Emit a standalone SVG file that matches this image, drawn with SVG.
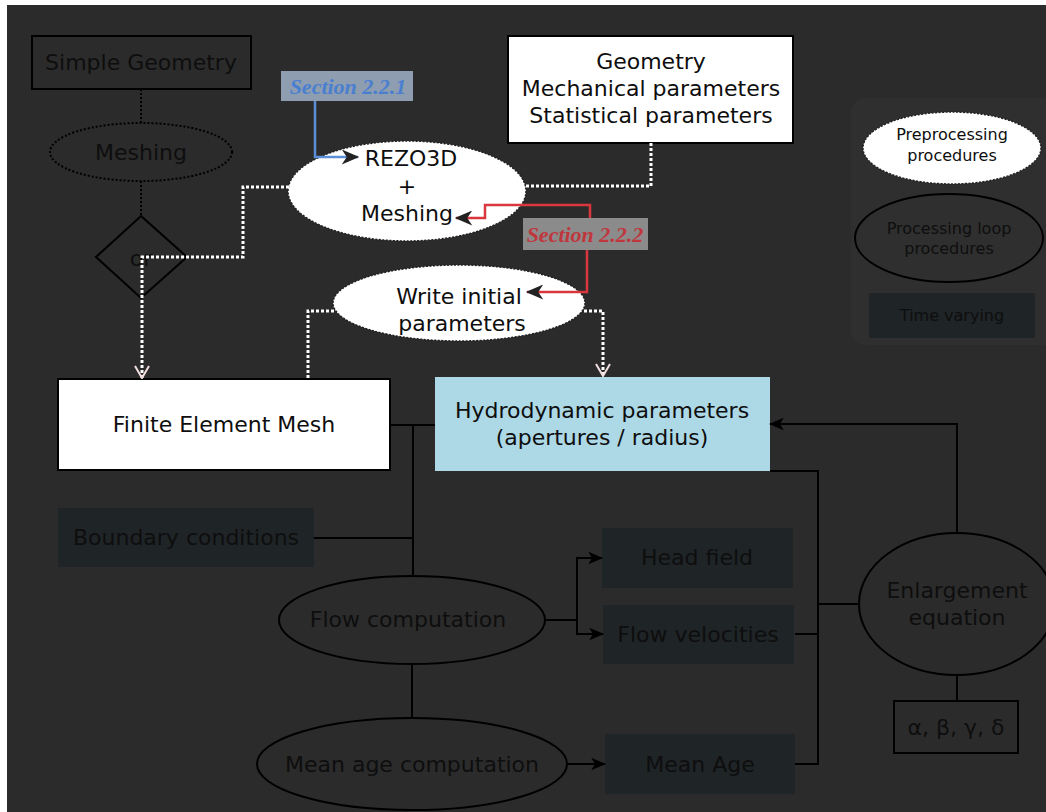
<svg xmlns="http://www.w3.org/2000/svg" width="1046" height="812" viewBox="0 0 1046 812">
<style>
  text { font-family: "DejaVu Sans", "Liberation Sans", sans-serif; font-size: 22px; text-anchor: middle; dominant-baseline: central; fill: #0e0e0e; }
  .dark { fill: #1f2427; }
  .blk { fill: none; stroke: #000; stroke-width: 2; }
  .dotk { fill: none; stroke: #000; stroke-width: 2; stroke-dasharray: 2 2; }
  .dotw { fill: none; stroke: #fff; stroke-width: 3; stroke-dasharray: 3 2; }
  .pre { fill: #fff; stroke: #222; stroke-width: 1.5; stroke-dasharray: 2 1.5; }
  .line { fill: none; stroke: #000; stroke-width: 2; }
  .sec { font-family: "Liberation Serif", serif; font-style: italic; font-weight: bold; font-size: 22px; }
  .small { font-size: 16px; }
</style>
<defs>
  <marker id="ah" viewBox="0 0 12 10" refX="11" refY="5" markerWidth="15" markerHeight="13" markerUnits="userSpaceOnUse" orient="auto">
    <path d="M0,0 L12,5 L0,10 L3,5 z" fill="#000"/>
  </marker>
  <marker id="ahd" viewBox="0 0 14 12" refX="13" refY="6" markerWidth="19" markerHeight="15" markerUnits="userSpaceOnUse" orient="auto">
    <path d="M0,0 L14,6 L0,12 L4,6 z" fill="#222"/>
  </marker>
  <marker id="av" viewBox="0 0 14 16" refX="13" refY="8" markerWidth="14" markerHeight="16" markerUnits="userSpaceOnUse" orient="auto">
    <path d="M1,1 L13,8 L1,15" fill="none" stroke="#f2dede" stroke-width="2"/>
  </marker>
</defs>
<rect x="0" y="0" width="1046" height="812" fill="#fff"/>
<rect x="7" y="5" width="1039" height="807" fill="#2b2b2b"/>

<g id="legend">
  <rect x="851" y="98" width="210" height="247" rx="14" fill="#2f2f2f"/>
  <ellipse class="pre" cx="952" cy="148" rx="89" ry="36"/>
  <text class="small" x="952" y="134">Preprocessing</text>
  <text class="small" x="952" y="155">procedures</text>
  <ellipse class="blk" cx="949" cy="238" rx="94" ry="44"/>
  <text class="small" x="949" y="228">Processing loop</text>
  <text class="small" x="949" y="248">procedures</text>
  <rect class="dark" x="869" y="293" width="166" height="45"/>
  <text class="small" x="952" y="315">Time varying</text>
</g>

<g id="simple-geometry">
  <rect class="blk" x="32" y="36" width="219" height="53"/>
  <text x="141" y="62">Simple Geometry</text>
</g>
<g id="meshing">
  <ellipse class="dotk" cx="141" cy="152" rx="91" ry="29"/>
  <text x="141" y="152">Meshing</text>
</g>
<g id="or">
  <polygon class="blk" points="141,216 187,257 141,298 96,257"/>
  <text x="141" y="258">or</text>
</g>
<g id="section-221">
  <rect x="281" y="71" width="132" height="30" fill="#8e9db0"/>
  <text class="sec" x="348" y="86" style="fill:#4a7fd0">Section 2.2.1</text>
</g>
<g id="geometry">
  <rect x="508" y="36" width="285" height="107" fill="#fff" stroke="#000" stroke-width="2"/>
  <text x="651" y="61">Geometry</text>
  <text x="651" y="88">Mechanical parameters</text>
  <text x="651" y="115">Statistical parameters</text>
</g>
<g id="rezo3d">
  <ellipse class="pre" cx="407" cy="191" rx="119" ry="50"/>
  <text x="411" y="158">REZO3D</text>
  <text x="407" y="186">+</text>
  <text x="407" y="213">Meshing</text>
</g>
<g id="section-222">
  <rect x="523" y="218" width="125" height="32" fill="#8b8b8b"/>
  <text class="sec" x="585" y="234" style="fill:#c0363d">Section 2.2.2</text>
</g>
<g id="write-initial">
  <ellipse class="pre" cx="459" cy="303" rx="126" ry="38"/>
  <text x="459" y="296">Write initial</text>
  <text x="462" y="323">parameters</text>
</g>
<g id="fem">
  <rect x="58" y="379" width="332" height="91" fill="#fff" stroke="#000" stroke-width="2"/>
  <text x="224" y="424">Finite Element Mesh</text>
</g>
<g id="hydro">
  <rect x="435" y="377" width="335" height="94" fill="#add8e6"/>
  <text x="602" y="410">Hydrodynamic parameters</text>
  <text x="602" y="437">(apertures / radius)</text>
</g>
<g id="boundary">
  <rect class="dark" x="58" y="508" width="256" height="59"/>
  <text x="186" y="537">Boundary conditions</text>
</g>
<g id="flow">
  <ellipse class="blk" cx="412" cy="620" rx="133" ry="44"/>
  <text x="408" y="619">Flow computation</text>
</g>
<g id="head">
  <rect class="dark" x="602" y="528" width="191" height="60"/>
  <text x="697" y="557">Head field</text>
</g>
<g id="velocities">
  <rect class="dark" x="603" y="605" width="191" height="59"/>
  <text x="698" y="634">Flow velocities</text>
</g>
<g id="mean-age-comp">
  <ellipse class="blk" cx="412" cy="764" rx="155" ry="46"/>
  <text x="412" y="764">Mean age computation</text>
</g>
<g id="mean-age">
  <rect class="dark" x="605" y="734" width="190" height="60"/>
  <text x="700" y="764">Mean Age</text>
</g>
<g id="enlargement">
  <ellipse class="blk" cx="957" cy="604" rx="98" ry="71"/>
  <text x="957" y="590">Enlargement</text>
  <text x="957" y="617">equation</text>
</g>
<g id="greek">
  <rect class="blk" x="894" y="701" width="124" height="52"/>
  <text x="956" y="727">α, β, γ, δ</text>
</g>

<g id="connectors">
  <line class="dotk" x1="141" y1="89" x2="141" y2="123"/>
  <line class="dotk" x1="141" y1="181" x2="141" y2="216"/>
  <path class="dotw" d="M289,187 L243,187 L243,257 L142,257 L142,378" marker-end="url(#av)"/>
  <path class="dotw" d="M651,143 L651,186 L526,186"/>
  <path class="dotw" d="M334,311 L308,311 L308,379"/>
  <path class="dotw" d="M584,311 L603,311 L603,376" marker-end="url(#av)"/>
  <path d="M315,101 L315,157 L358,157" fill="none" stroke="#5b8fd8" stroke-width="2.5" marker-end="url(#ahd)"/>
  <path d="M590,218 L590,205 L485,205 L485,218 L456,218" fill="none" stroke="#d9363e" stroke-width="2.5" marker-end="url(#ahd)"/>
  <path d="M587,250 L587,292 L527,292" fill="none" stroke="#d9363e" stroke-width="2.5" marker-end="url(#ahd)"/>
  <line class="line" x1="390" y1="425" x2="435" y2="425"/>
  <line class="line" x1="413" y1="425" x2="413" y2="576"/>
  <line class="line" x1="314" y1="538" x2="413" y2="538"/>
  <line class="line" x1="412" y1="664" x2="412" y2="718"/>
  <path class="line" d="M545,620 L577,620 L577,558 L602,558" marker-end="url(#ah)"/>
  <path class="line" d="M577,620 L577,634 L603,634" marker-end="url(#ah)"/>
  <path class="line" d="M567,764 L605,764" marker-end="url(#ah)"/>
  <path class="line" d="M770,471 L818,471 L818,764 L795,764"/>
  <line class="line" x1="795" y1="634" x2="818" y2="634"/>
  <line class="line" x1="818" y1="604" x2="859" y2="604"/>
  <path class="line" d="M957,533 L957,424 L770,424" marker-end="url(#ah)"/>
  <line class="line" x1="957" y1="675" x2="957" y2="701"/>
</g>
</svg>
